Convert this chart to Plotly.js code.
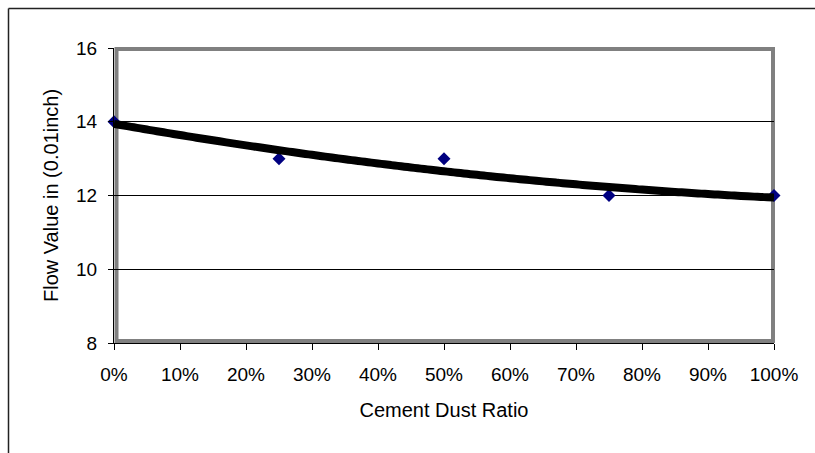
<!DOCTYPE html>
<html>
<head>
<meta charset="utf-8">
<script src="https://cdn.plot.ly/plotly-3.0.1.min.js"></script>
<style>
  html, body { margin: 0; padding: 0; background: #ffffff; }
  #chart { width: 815px; height: 453px; }
</style>
</head>
<body>
<div id="chart"></div>
<script>
// ---- data ----
const cementDustRatio = [0, 0.25, 0.5, 0.75, 1.0];
const flowValue = [14, 13, 13, 12, 12];
const yTickValues = [8, 10, 12, 14, 16];
const xTickValues = [0, 0.1, 0.2, 0.3, 0.4, 0.5, 0.6, 0.7, 0.8, 0.9, 1.0];
const xTickLabels = ['0%', '10%', '20%', '30%', '40%', '50%', '60%', '70%', '80%', '90%', '100%'];

// ---- trendline: 2nd-order polynomial least-squares fit of the data (as in the original) ----
function polyFit2(xs, ys) {
  let n = xs.length, s = [0, 0, 0, 0, 0], t = [0, 0, 0];
  for (let i = 0; i < n; i++) {
    let p = 1;
    for (let k = 0; k < 5; k++) { s[k] += p; if (k < 3) t[k] += p * ys[i]; p *= xs[i]; }
  }
  const A = [[s[0], s[1], s[2], t[0]], [s[1], s[2], s[3], t[1]], [s[2], s[3], s[4], t[2]]];
  for (let c = 0; c < 3; c++) {
    for (let r = c + 1; r < 3; r++) {
      const f = A[r][c] / A[c][c];
      for (let k = c; k < 4; k++) A[r][k] -= f * A[c][k];
    }
  }
  const b = [0, 0, 0];
  for (let r = 2; r >= 0; r--) {
    let v = A[r][3];
    for (let k = r + 1; k < 3; k++) v -= A[r][k] * b[k];
    b[r] = v / A[r][r];
  }
  return b;
}
const coef = polyFit2(cementDustRatio, flowValue);
const trendX = [], trendY = [];
for (let i = 0; i <= 100; i++) {
  const x = i / 100;
  trendX.push(x);
  trendY.push(coef[0] + coef[1] * x + coef[2] * x * x);
}

const FONT = 'Liberation Sans, Arial, Helvetica, sans-serif';

const traces = [
  {
    x: cementDustRatio, y: flowValue, type: 'scatter', mode: 'markers',
    marker: { symbol: 'diamond', size: 10, color: '#000080' },
    cliponaxis: false, showlegend: false, hoverinfo: 'x+y'
  },
  {
    x: trendX, y: trendY, type: 'scatter', mode: 'lines',
    line: { color: '#000000', width: 8, shape: 'spline' },
    cliponaxis: false, showlegend: false, hoverinfo: 'skip'
  }
];

const layout = {
  width: 815, height: 453,
  margin: { l: 114, r: 41, t: 48, b: 110 },
  paper_bgcolor: '#ffffff', plot_bgcolor: '#ffffff',
  font: { family: FONT, size: 19, color: '#000000' },
  showlegend: false,
  xaxis: {
    range: [0, 1], tickvals: xTickValues, ticktext: xTickLabels,
    showgrid: false, zeroline: false,
    showline: true, linecolor: '#000000', linewidth: 1,
    ticks: 'outside', ticklen: 6, tickcolor: '#000000', tickwidth: 1,
    ticklabelstandoff: 8,
    tickfont: { family: FONT, size: 19, color: '#000000' },
    title: { text: 'Cement Dust Ratio', font: { family: FONT, size: 20, color: '#000000' }, standoff: 19 },
    fixedrange: true
  },
  yaxis: {
    range: [8, 16], tickvals: yTickValues,
    showgrid: true, gridcolor: '#000000', gridwidth: 1, zeroline: false,
    showline: true, linecolor: '#000000', linewidth: 1,
    ticks: 'outside', ticklen: 5, tickcolor: '#000000', tickwidth: 1,
    ticklabelstandoff: 7,
    tickfont: { family: FONT, size: 19, color: '#000000' },
    title: { text: 'Flow Value in (0.01inch)', font: { family: FONT, size: 20, color: '#000000' }, standoff: 12 },
    fixedrange: true
  },
  shapes: [
    // plot-area border (gray)
    { type: 'rect', xref: 'paper', yref: 'paper', layer: 'between',
      x0: 2.5 / 660, x1: 1 - 1 / 660, y0: 2 / 295, y1: 1 - 1 / 295,
      line: { color: '#808080', width: 4 }, fillcolor: 'rgba(0,0,0,0)' },
    // outer chart frame: top and left edges
    { type: 'line', xref: 'paper', yref: 'paper',
      x0: (8.5 - 114) / 660, x1: (815 - 114) / 660, y0: (343 - 8.5) / 295, y1: (343 - 8.5) / 295,
      line: { color: '#222222', width: 1.5 } },
    { type: 'line', xref: 'paper', yref: 'paper',
      x0: (8.5 - 114) / 660, x1: (8.5 - 114) / 660, y0: (343 - 8.5) / 295, y1: (343 - 460) / 295,
      line: { color: '#222222', width: 1.5 } }
  ]
};

Plotly.newPlot('chart', traces, layout, { displayModeBar: false, staticPlot: true });
</script>
</body>
</html>
